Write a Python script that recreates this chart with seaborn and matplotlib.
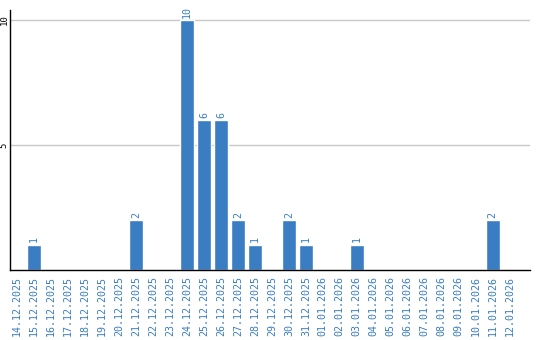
import matplotlib
matplotlib.use("Agg")
import matplotlib.pyplot as plt
import seaborn as sns
import pandas as pd

dates = ["14.12.2025", "15.12.2025", "16.12.2025", "17.12.2025", "18.12.2025",
         "19.12.2025", "20.12.2025", "21.12.2025", "22.12.2025", "23.12.2025",
         "24.12.2025", "25.12.2025", "26.12.2025", "27.12.2025", "28.12.2025",
         "29.12.2025", "30.12.2025", "31.12.2025", "01.01.2026", "02.01.2026",
         "03.01.2026", "04.01.2026", "05.01.2026", "06.01.2026", "07.01.2026",
         "08.01.2026", "09.01.2026", "10.01.2026", "11.01.2026", "12.01.2026"]
counts = [0, 1, 0, 0, 0, 0, 0, 2, 0, 0,
          10, 6, 6, 2, 1, 0, 2, 1, 0, 0,
          1, 0, 0, 0, 0, 0, 0, 0, 2, 0]
y_ticks = [5, 10]

BLUE = "#3a7dc3"

sns.set_theme(style="white")
plt.rcParams['font.family'] = ['DejaVu Sans Mono', 'DejaVu Sans']

df = pd.DataFrame({"date": dates, "count": counts})

fig = plt.figure(figsize=(5.4, 3.4), dpi=100)
ax = fig.add_axes([10/540, 1 - 270/340, 520/540, 260/340])

sns.barplot(data=df, x="date", y="count", color=BLUE, width=0.82,
            saturation=1, ax=ax, order=dates)

for i, v in enumerate(counts):
    if v > 0:
        ax.text(i, v + 0.1, str(v), rotation=90, ha="center", va="bottom",
                color=BLUE, fontsize=7.2)

ax.set_xlim(-0.42, 30.2)
ax.set_ylim(0, 10.4)
ax.set_yticks(y_ticks)
ax.set_yticklabels([str(t) for t in y_ticks], rotation=90, va="center",
                   fontsize=6.5, color="black")
ax.tick_params(axis="y", length=0, pad=1)
ax.tick_params(axis="x", length=0, pad=4)
ax.set_xticks(range(len(dates)))
ax.set_xticklabels(dates, rotation=90, fontsize=7.2, color=BLUE)
ax.yaxis.grid(True, color="#c8c8c8", linewidth=1)
ax.set_axisbelow(True)
ax.set_xlabel("")
ax.set_ylabel("")
for s in ["top", "right"]:
    ax.spines[s].set_visible(False)
for s in ["left", "bottom"]:
    ax.spines[s].set_color("black")
    ax.spines[s].set_linewidth(1.0)

fig.savefig("out.png", dpi=100)
